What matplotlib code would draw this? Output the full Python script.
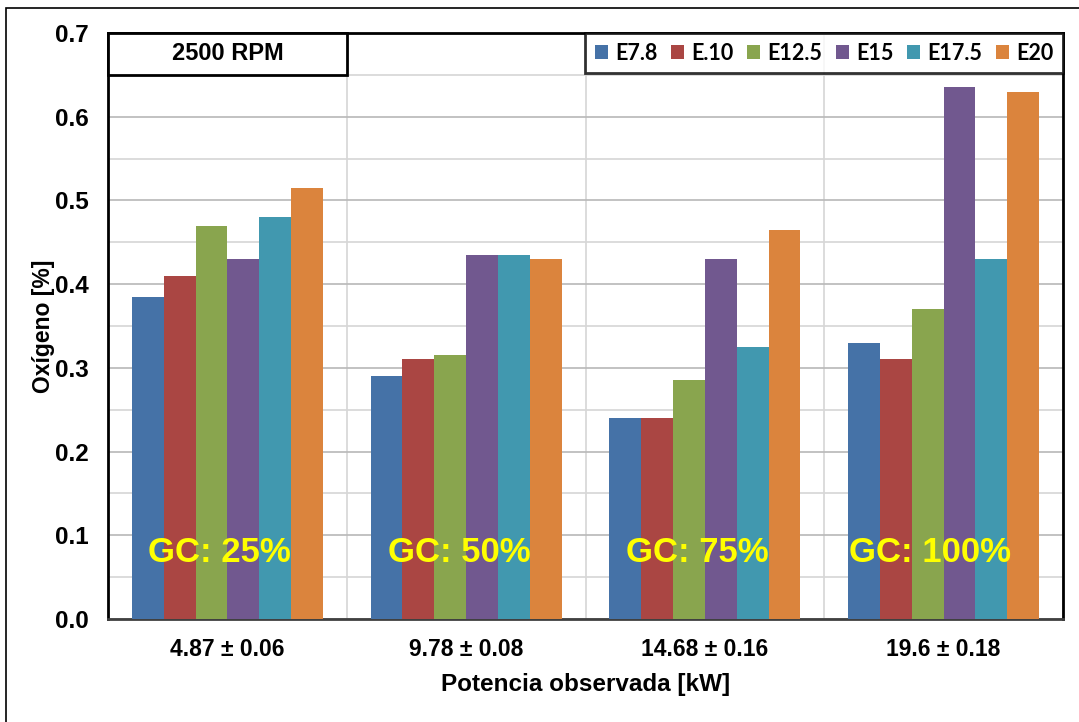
import matplotlib
matplotlib.use("Agg")
import matplotlib.pyplot as plt
from matplotlib.patches import Rectangle
from matplotlib.ticker import MultipleLocator, FormatStrFormatter
import numpy as np

plt.rcParams['font.family'] = ['Liberation Sans', 'DejaVu Sans']

# Data
categories = ["4.87 ± 0.06", "9.78 ± 0.08", "14.68 ± 0.16", "19.6 ± 0.18"]
load_labels = ["GC: 25%", "GC: 50%", "GC: 75%", "GC: 100%"]
series_names = ["E7.8", "E.10", "E12.5", "E15", "E17.5", "E20"]
e78 = [0.385, 0.29, 0.24, 0.33]
e10 = [0.41, 0.31, 0.24, 0.31]
e125 = [0.47, 0.315, 0.285, 0.37]
e15 = [0.43, 0.435, 0.43, 0.635]
e175 = [0.48, 0.435, 0.325, 0.43]
e20 = [0.515, 0.43, 0.465, 0.63]
series_values = [e78, e10, e125, e15, e175, e20]
colors = ["#4572A7", "#AA4643", "#89A54E", "#71588F", "#4198AF", "#DB843D"]

W, H = 1079, 722
fig = plt.figure(figsize=(W / 100, H / 100), dpi=100)

# outer frame (left and top edges visible)
fig.patches.append(Rectangle((6 / W, -0.1), 1.2, 1.1 - 8 / H,
                             transform=fig.transFigure, fill=False,
                             edgecolor="black", linewidth=1.2, zorder=0))

left, right, top, bottom = 108, 1063, 33, 619
ax = fig.add_axes([left / W, 1 - bottom / H, (right - left) / W, (bottom - top) / H])

n_cat = len(categories)
n_ser = len(series_names)
x = np.arange(n_cat)
group_w = 0.8
bw = group_w / n_ser

for i, (name, vals, c) in enumerate(zip(series_names, series_values, colors)):
    offs = -group_w / 2 + bw * (i + 0.5)
    ax.bar(x + offs, vals, width=bw, color=c, label=name, zorder=3, linewidth=0)

ax.set_xlim(-0.5, n_cat - 0.5)
ax.set_ylim(0, 0.7)
ax.yaxis.set_major_locator(MultipleLocator(0.1))
ax.yaxis.set_minor_locator(MultipleLocator(0.05))
ax.yaxis.set_major_formatter(FormatStrFormatter("%.1f"))
ax.set_xticks(x)
ax.set_xticklabels(categories, fontsize=16.5, fontweight="bold")
ax.set_xticks(np.arange(-0.5, n_cat, 0.5), minor=True)
ax.tick_params(axis="x", which="both", length=0, pad=14)
ax.tick_params(axis="y", which="both", length=0, pad=14, labelsize=17.5)
for lab in ax.get_yticklabels():
    lab.set_fontweight("bold")

ax.grid(True, which="major", axis="y", color="#b8b8b8", linewidth=1.2, zorder=0)
ax.grid(True, which="minor", axis="both", color="#d6d6d6", linewidth=1.2, zorder=0)
ax.set_axisbelow(True)

for s in ax.spines.values():
    s.set_linewidth(2)
    s.set_color("black")
ax.spines["bottom"].set_color("#404040")

ax.set_ylabel("Oxígeno [%]", fontsize=16.5, fontweight="bold", labelpad=0)
ax.set_xlabel("Potencia observada [kW]", fontsize=17.5, fontweight="bold", labelpad=8)

# load labels inside each group
label_dx = [-0.035, -0.03, -0.03, -0.055]
for xi, dx, t in zip(x, label_dx, load_labels):
    ax.text(xi + dx, 0.08, t, ha="center", va="center", fontsize=25,
            fontweight="bold", color="#FFFF00", zorder=5)

# speed box
box_bottom = (bottom - 75) / (bottom - top)
ax.add_patch(Rectangle((0, box_bottom), 0.25, 1 - box_bottom, transform=ax.transAxes,
                       facecolor="white", edgecolor="black", linewidth=2,
                       zorder=6, clip_on=False))
ax.text(0.125, (1 + box_bottom) / 2, "2500 RPM", transform=ax.transAxes,
        ha="center", va="center", fontsize=17, fontweight="bold", zorder=7)

# legend
lx0 = (585 - left) / (right - left)
leg = ax.legend(loc="upper left", bbox_to_anchor=(lx0, 0, 1 - lx0, 1.0),
                mode="expand", ncol=n_ser, frameon=True, fancybox=False,
                borderaxespad=0, borderpad=0.45, handlelength=0.6, handleheight=0.6,
                handletextpad=0.35, columnspacing=0.9,
                prop={"family": "Lato", "weight": "bold", "size": 15.5})
leg.get_frame().set_edgecolor("black")
leg.get_frame().set_linewidth(2)
leg.set_zorder(8)

fig.savefig("out.png", dpi=100)
